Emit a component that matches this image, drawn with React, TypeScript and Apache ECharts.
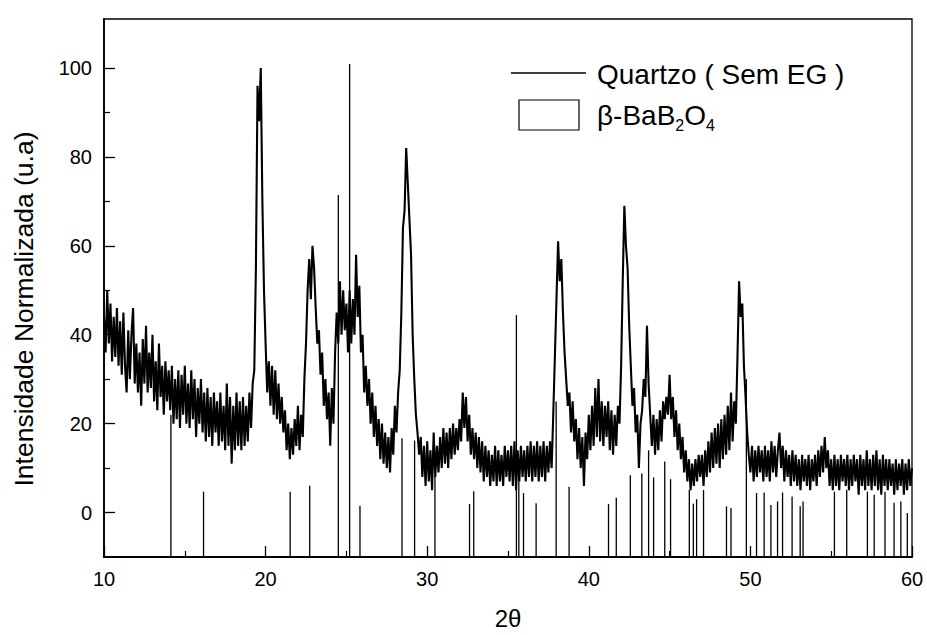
import React, { useEffect, useRef } from "react";
import * as echarts from "echarts";

// 2θ sampling of the measured pattern
const THETA_START = 10;
const THETA_STEP = 0.1;

// Quartzo (Sem EG) normalized intensity, one row per degree (10.0 .. 60.0)
const quartzIntensity: number[] = [
  44, 36, 50, 38, 47, 34, 44, 35, 46, 33,
  43, 31, 45, 33, 27, 41, 30, 40, 46, 29,
  38, 27, 36, 24, 39, 29, 42, 27, 36, 28,
  40, 25, 34, 23, 38, 26, 33, 22, 34, 25,
  32, 23, 33, 20, 30, 21, 32, 19, 31, 22,
  33, 20, 29, 19, 32, 21, 30, 17, 28, 20,
  30, 18, 27, 16, 28, 17, 26, 15, 27, 18,
  25, 15, 27, 16, 24, 14, 29, 15, 26, 11,
  24, 14, 27, 15, 25, 14, 26, 15, 24, 16,
  27, 19, 29, 32, 55, 96, 88, 100, 70, 50,
  38, 27, 34, 24, 33, 22, 32, 21, 29, 20,
  26, 18, 23, 14, 20, 12, 19, 13, 21, 15,
  24, 14, 22, 17, 30, 38, 50, 57, 48, 60,
  55, 46, 38, 41, 31, 36, 24, 30, 21, 27,
  15, 28, 20, 36, 45, 38, 52, 40, 50, 41,
  47, 36, 50, 38, 48, 40, 58, 44, 51, 36,
  40, 27, 33, 24, 30, 20, 27, 17, 24, 15,
  21, 12, 20, 11, 18, 10, 17, 9, 19, 13,
  24, 18, 27, 32, 45, 64, 68, 82, 74, 66,
  58, 40, 30, 22, 18, 13, 17, 8, 15, 6,
  16, 7, 14, 5, 18, 8, 15, 9, 17, 10,
  19, 11, 18, 10, 19, 12, 20, 13, 19, 14,
  21, 16, 27, 19, 26, 16, 22, 13, 19, 12,
  18, 10, 17, 9, 16, 7, 15, 8, 14, 6,
  13, 7, 15, 6, 14, 7, 13, 6, 15, 8,
  14, 7, 15, 6, 16, 5, 14, 7, 15, 8,
  14, 7, 15, 8, 16, 7, 15, 8, 16, 7,
  15, 8, 16, 7, 15, 9, 16, 10, 22, 35,
  48, 61, 52, 57, 45, 36, 30, 24, 27, 18,
  25, 16, 21, 12, 19, 10, 17, 6, 18, 12,
  22, 14, 24, 15, 28, 17, 30, 16, 25, 15,
  24, 17, 25, 14, 23, 13, 22, 15, 24, 20,
  33, 52, 69, 60, 55, 42, 33, 24, 28, 18,
  22, 10, 20, 23, 30, 26, 42, 29, 22, 15,
  22, 13, 21, 14, 23, 16, 25, 21, 26, 22,
  31, 21, 26, 17, 23, 14, 20, 12, 17, 9,
  14, 7, 12, 5, 11, 6, 12, 7, 13, 8,
  13, 6, 14, 8, 16, 9, 18, 10, 19, 11,
  20, 10, 21, 12, 22, 13, 24, 14, 27, 16,
  25, 20, 35, 52, 44, 47, 33, 26, 18, 13,
  9, 15, 7, 14, 8, 15, 9, 14, 7, 15,
  8, 14, 7, 16, 9, 15, 8, 14, 18, 10,
  15, 7, 14, 8, 13, 6, 14, 7, 13, 6,
  12, 5, 13, 7, 12, 6, 13, 5, 12, 7,
  13, 6, 14, 8, 15, 9, 17, 10, 14, 6,
  12, 5, 13, 6, 12, 5, 13, 7, 12, 6,
  13, 5, 12, 6, 13, 7, 12, 4, 13, 6,
  12, 5, 14, 6, 12, 5, 13, 6, 14, 5,
  12, 4, 13, 6, 12, 5, 12, 6, 11, 4,
  12, 5, 11, 6, 12, 4, 11, 5, 12, 6,
  10,
];

// β-BaB2O4 reference lines: position (2θ) and top of each stick
const babStickTheta: number[] = [
  14.14, 16.16, 21.52, 22.73, 24.5, 25.2, 25.84, 28.44, 29.22, 30.48,
  32.62, 32.88, 35.52, 35.67, 35.96, 36.74, 37.98, 38.78, 41.22, 41.7,
  42.57, 43.28, 43.7, 44.01, 44.7, 45.06, 46.22, 46.47, 46.67, 47.1,
  48.52, 48.8, 49.75, 50.38, 50.85, 51.27, 51.68, 51.99, 52.58, 53.08,
  53.26, 55.2, 55.96, 57.24, 57.66, 58.33, 58.89, 59.31, 59.71,
];
const babStickTop: number[] = [
  22, 4.7, 4.7, 6, 71.4, 100.9, 1.5, 16.7, 16.2, 8.2,
  1.9, 4.8, 44.4, 10, 4.4, 2.1, 25, 5.8, 1.9, 3.3,
  8.4, 8.8, 14, 7.9, 11.5, 7.5, 5.1, 2, 3, 5.1,
  1.4, 1, 30, 4.4, 4.5, 1.7, 2.5, 4.5, 3.6, 1.4,
  2.5, 4.7, 5.1, 4.7, 4, 4.7, 2.2, 2.5, -0.1,
];

const X_MIN = 10;
const X_MAX = 60;
const Y_MIN = -10;
const Y_MAX = 111;
const yMajorTicks = [0, 20, 40, 60, 80, 100];
const yMinorTicks = [10, 30, 50, 70, 90];

const FONT = "'Liberation Sans', Arial, Helvetica, sans-serif";

export default function App() {
  const ref = useRef<HTMLDivElement>(null);

  useEffect(() => {
    if (!ref.current) return;
    const chart = echarts.init(ref.current, undefined, { renderer: "svg" });

    const lineData = quartzIntensity.map((v, i) => [
      +(THETA_START + i * THETA_STEP).toFixed(2),
      v,
    ]);
    const stickData = babStickTheta.map((t, i) => [t, babStickTop[i]]);

    const option: any = {
      animation: false,
      backgroundColor: "#fff",
      textStyle: { fontFamily: FONT, color: "#000" },
      grid: {
        left: 104,
        right: 15,
        top: 19,
        bottom: 72,
        show: true,
        borderColor: "#000",
        borderWidth: 1.3,
        backgroundColor: "transparent",
      },
      xAxis: {
        type: "value",
        min: X_MIN,
        max: X_MAX,
        interval: 10,
        position: "bottom",
        name: "2θ",
        nameLocation: "middle",
        nameGap: 49,
        nameTextStyle: { fontSize: 24, color: "#000", fontFamily: FONT },
        axisLine: { show: true, onZero: false, lineStyle: { color: "#000", width: 1.8 } },
        axisTick: { show: true, inside: true, length: 11, lineStyle: { color: "#000", width: 1.3 } },
        minorTick: { show: true, splitNumber: 2, length: 6, lineStyle: { color: "#000", width: 1.2 } },
        axisLabel: { fontSize: 20, color: "#000", margin: 12, fontFamily: FONT },
        splitLine: { show: false },
        minorSplitLine: { show: false },
      },
      yAxis: [
        {
          type: "value",
          min: Y_MIN,
          max: Y_MAX,
          position: "left",
          axisLine: { show: true, onZero: false, lineStyle: { color: "#000", width: 1.8 } },
          axisTick: {
            show: true,
            inside: true,
            length: 11,
            customValues: yMajorTicks,
            lineStyle: { color: "#000", width: 1.3 },
          },
          axisLabel: {
            fontSize: 20,
            color: "#000",
            margin: 12,
            customValues: yMajorTicks,
            fontFamily: FONT,
          },
          splitLine: { show: false },
        },
        {
          type: "value",
          min: Y_MIN,
          max: Y_MAX,
          position: "left",
          offset: 0,
          axisLine: { show: false },
          axisTick: {
            show: true,
            inside: true,
            length: 6,
            customValues: yMinorTicks,
            lineStyle: { color: "#000", width: 1.2 },
          },
          axisLabel: { show: false },
          splitLine: { show: false },
        },
      ],
      series: [
        {
          name: "Quartzo ( Sem EG )",
          type: "line",
          data: lineData,
          showSymbol: false,
          symbol: "none",
          lineStyle: { color: "#000", width: 2.1, join: "bevel" },
          silent: true,
          z: 3,
        },
        {
          name: "β-BaB2O4",
          type: "custom",
          data: stickData,
          encode: { x: 0, y: 1 },
          clip: true,
          silent: true,
          z: 2,
          renderItem: (_params: any, api: any) => {
            const t = api.value(0);
            const h = api.value(1);
            const p0 = api.coord([t, Y_MIN]);
            const p1 = api.coord([t, h]);
            return {
              type: "line",
              shape: { x1: p0[0], y1: p0[1], x2: p1[0], y2: p1[1] },
              style: { stroke: "#000", lineWidth: 1.3 },
            };
          },
        },
      ],
      graphic: [
        {
          type: "text",
          x: 24,
          y: 309,
          rotation: Math.PI / 2,
          style: {
            text: "Intensidade Normalizada (u.a)",
            fontSize: 26.5,
            fontFamily: FONT,
            fill: "#000",
            align: "center",
            verticalAlign: "middle",
          },
        },
        {
          type: "line",
          shape: { x1: 511, y1: 73, x2: 586, y2: 73 },
          style: { stroke: "#000", lineWidth: 1.3 },
        },
        {
          type: "text",
          x: 597,
          y: 74,
          style: {
            text: "Quartzo ( Sem EG )",
            fontSize: 28,
            fontFamily: FONT,
            fill: "#000",
            align: "left",
            verticalAlign: "middle",
          },
        },
        {
          type: "rect",
          shape: { x: 519, y: 100, width: 60, height: 30 },
          style: { fill: "none", stroke: "#000", lineWidth: 1.2 },
        },
        {
          type: "text",
          x: 597,
          y: 115,
          style: {
            text: "β-BaB{s|2}O{s|4}",
            fontSize: 28,
            fontFamily: FONT,
            fill: "#000",
            align: "left",
            verticalAlign: "middle",
            lineHeight: 36,
            rich: {
              s: {
                fontSize: 16,
                fontFamily: FONT,
                fill: "#000",
                verticalAlign: "bottom",
                lineHeight: 16,
              },
            },
          },
        },
      ],
    };

    chart.setOption(option);
    return () => chart.dispose();
  }, []);

  return (
    <div
      ref={ref}
      style={{ position: "fixed", left: 0, top: 0, width: 927, height: 635 }}
    />
  );
}
